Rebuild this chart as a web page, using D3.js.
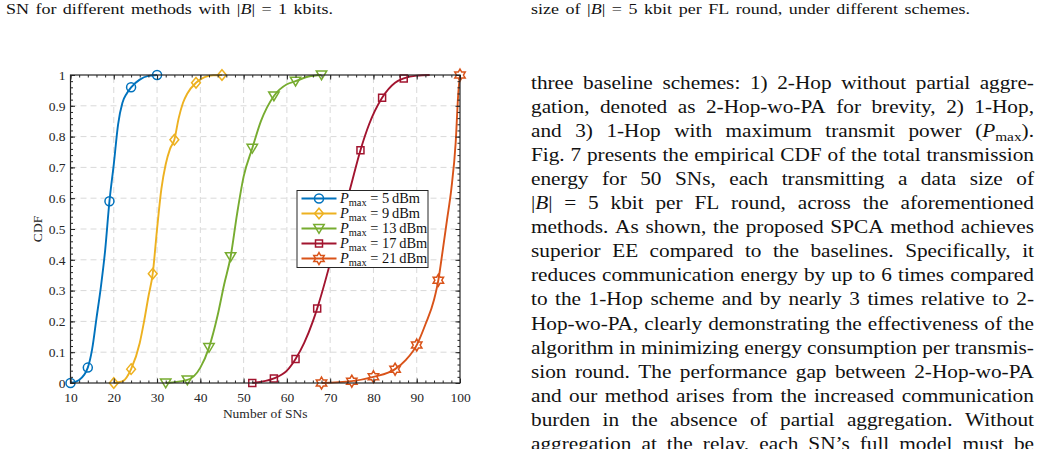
<!DOCTYPE html>
<html>
<head>
<meta charset="utf-8">
<script src="https://cdn.jsdelivr.net/npm/d3@7"></script>
<style>
  html, body { margin: 0; padding: 0; background: #fff; }
  svg { display: block; }
</style>
</head>
<body>
<svg id="page" width="1041" height="449"></svg>
<script>
// ── Chart data ──
var snMajor = [10, 20, 30, 40, 50, 60, 70, 80, 90, 100];
var cdfMajor = [0, 0.1, 0.2, 0.3, 0.4, 0.5, 0.6, 0.7, 0.8, 0.9, 1];
var cdfLabels = ['0', '0.1', '0.2', '0.3', '0.4', '0.5', '0.6', '0.7', '0.8', '0.9', '1'];

var sn5  = [10, 12, 14, 15, 16, 17, 18, 19, 20, 21, 22, 23, 24, 26, 28, 30];
var cdf5 = [0, 0.01, 0.05, 0.11, 0.21, 0.31, 0.43, 0.59, 0.71, 0.84, 0.91, 0.94, 0.96, 0.985, 0.997, 1];
var mk5  = [10, 14, 19, 24, 30];

var sn9  = [20, 22, 24, 26, 27, 28, 29, 30, 31, 32, 33, 34, 35, 36, 37, 39, 41, 43, 45];
var cdf9 = [0, 0.005, 0.045, 0.13, 0.2, 0.28, 0.355, 0.5, 0.63, 0.71, 0.76, 0.79, 0.86, 0.91, 0.94, 0.975, 0.993, 0.999, 1];
var mk9  = [20, 24, 29, 34, 39, 45];

var sn13  = [32, 37, 40, 42, 44, 45.5, 47, 48.5, 50, 52, 54, 57, 60, 62, 65, 68];
var cdf13 = [0, 0.01, 0.05, 0.115, 0.22, 0.32, 0.41, 0.55, 0.67, 0.762, 0.85, 0.932, 0.97, 0.98, 0.995, 1];
var mk13  = [32, 37, 42, 47, 52, 57, 62, 68];

var sn17  = [52, 57, 60, 62, 64, 66, 67, 70, 72, 74.5, 77, 79, 82, 85, 87, 90, 93];
var cdf17 = [0, 0.015, 0.04, 0.078, 0.13, 0.2, 0.242, 0.39, 0.5, 0.625, 0.756, 0.84, 0.926, 0.975, 0.989, 0.998, 1];
var mk17  = [52, 57, 62, 67, 72, 77, 82, 87];

var sn21  = [68, 75, 80, 85, 87.5, 90, 92, 94, 95, 96, 97, 98, 99, 99.6, 100];
var cdf21 = [0, 0.006, 0.02, 0.045, 0.075, 0.123, 0.19, 0.27, 0.334, 0.43, 0.53, 0.63, 0.78, 0.94, 1];
var mk21  = [68, 75, 80, 85, 90, 95, 100];

var powerLabels = ['5', '9', '13', '17', '21'];
var seriesColors = ['#0072BD', '#EDB120', '#77AC30', '#A2142F', '#D95319'];
var seriesMarkers = ['circle', 'diamond', 'triangle', 'square', 'hexagram'];

// ── Page text ──
var captionLeft = 'SN for different methods with |*B*| = 1 kbits.';
var captionRight = 'size of |*B*| = 5 kbit per FL round, under different schemes.';
var bodyLines = [
    'three baseline schemes: 1) 2-Hop without partial aggre-',
    'gation, denoted as 2-Hop-wo-PA for brevity, 2) 1-Hop,',
    'and 3) 1-Hop with maximum transmit power (*P*_{max}).',
    'Fig. 7 presents the empirical CDF of the total transmission',
    'energy for 50 SNs, each transmitting a data size of',
    '|*B*| = 5 kbit per FL round, across the aforementioned',
    'methods. As shown, the proposed SPCA method achieves',
    'superior EE compared to the baselines. Specifically, it',
    'reduces communication energy by up to 6 times compared',
    'to the 1-Hop scheme and by nearly 3 times relative to 2-',
    'Hop-wo-PA, clearly demonstrating the effectiveness of the',
    'algorithm in minimizing energy consumption per transmis-',
    'sion round. The performance gap between 2-Hop-wo-PA',
    'and our method arises from the increased communication',
    'burden in the absence of partial aggregation. Without',
    'aggregation at the relay, each SN\u2019s full model must be'
];

var SERIF = '"Liberation Serif", "Times New Roman", serif';
var svg = d3.select('#page');

// ── rich text helpers: *x* italic, _{x} subscript ──
function parseSegs(str) {
    var parts = str.split(/(\*[^*]+\*|_\{[^}]+\})/).filter(function(p) { return p.length; });
    return parts.map(function(p) {
        if (p[0] === '*') return { t: p.slice(1, -1), it: true };
        if (p[0] === '_') return { t: p.slice(2, -1), sub: true };
        return { t: p };
    });
}

function addSegs(text, segs, size) {
    var shifted = false;
    segs.forEach(function(s) {
        var ts = text.append('tspan').text(s.t);
        if (s.it) ts.style('font-style', 'italic');
        if (s.sub) {
            ts.attr('font-size', size * 0.72).attr('dy', size * 0.22);
            shifted = true;
        } else if (shifted) {
            ts.attr('dy', -size * 0.22);
            shifted = false;
        }
    });
}

function measure(g, str, size) {
    var t = g.append('text').attr('font-size', size);
    addSegs(t, parseSegs(str), size);
    var w = t.node().getComputedTextLength();
    t.remove();
    return w;
}

// place words (stretched by sx) so that the line spans exactly `width`
function justifyLine(g, str, x0, width, y, size, sx) {
    var words = str.split(' ');
    var nodes = words.map(function(w) {
        var t = g.append('text').attr('font-size', size);
        addSegs(t, parseSegs(w), size);
        return t;
    });
    var widths = nodes.map(function(n) { return n.node().getComputedTextLength() * sx; });
    var gap = (width - d3.sum(widths)) / (words.length - 1);
    var x = x0;
    nodes.forEach(function(n, i) {
        n.attr('transform', 'translate(' + x + ',' + y + ') scale(' + sx + ',1)');
        x += widths[i] + gap;
    });
}

// ── captions and body column ──
var textG = svg.append('g')
    .style('font-family', SERIF)
    .style('fill', '#111');

var BODY_SIZE = 18, BODY_W = 503;
// the set text is a wider face than Times: stretch so the tightest line fits with plain spaces
var bodySx = d3.min(bodyLines, function(l) { return BODY_W / measure(textG, l, BODY_SIZE); });
bodySx = Math.max(1, Math.min(1.2, bodySx));

[[captionLeft, 6, 327], [captionRight, 531, 439]].forEach(function(c) {
    var sx = c[2] / measure(textG, c[0], 15);
    justifyLine(textG, c[0], c[1], c[2], 14, 15, Math.max(1, Math.min(1.2, sx)));
});

bodyLines.forEach(function(line, i) {
    justifyLine(textG, line, 531, BODY_W, 88.5 + i * 24.1, BODY_SIZE, bodySx);
});

// ── chart ──
var x = d3.scaleLinear().domain([10, 100]).range([70.5, 460]);
var y = d3.scaleLinear().domain([0, 1]).range([383, 75]);

var chart = svg.append('g').style('font-family', SERIF);

var snMinor = d3.range(10, 100.1, 2);
var cdfMinor = d3.range(0, 1.001, 0.02);

// grid
chart.append('g').selectAll('line')
    .data(snMajor.slice(1, -1))
    .enter().append('line')
    .attr('x1', function(d) { return x(d); })
    .attr('x2', function(d) { return x(d); })
    .attr('y1', y(0)).attr('y2', y(1))
    .style('stroke', '#d9d9d9')
    .style('stroke-width', 1)
    .style('stroke-dasharray', '6,4');

chart.append('g').selectAll('line')
    .data(cdfMajor.slice(1, -1))
    .enter().append('line')
    .attr('x1', x(10)).attr('x2', x(100))
    .attr('y1', function(d) { return y(d); })
    .attr('y2', function(d) { return y(d); })
    .style('stroke', '#d9d9d9')
    .style('stroke-width', 1)
    .style('stroke-dasharray', '6,4');

// markers
function markerPath(type) {
    var p = d3.path();
    if (type === 'circle') {
        p.arc(0, 0, 4.5, 0, 2 * Math.PI);
    } else if (type === 'diamond') {
        p.moveTo(0, -5.3); p.lineTo(4.4, 0); p.lineTo(0, 5.3); p.lineTo(-4.4, 0); p.closePath();
    } else if (type === 'triangle') {
        p.moveTo(-5.2, -4); p.lineTo(5.2, -4); p.lineTo(0, 4.8); p.closePath();
    } else if (type === 'square') {
        p.rect(-3.5, -3.5, 7, 7);
    } else if (type === 'hexagram') {
        var R = 6, r = R / Math.sqrt(3);
        for (var k = 0; k < 12; k++) {
            var a = -Math.PI / 2 + k * Math.PI / 6;
            var rad = (k % 2 === 0) ? R : r;
            if (k === 0) p.moveTo(rad * Math.cos(a), rad * Math.sin(a));
            else p.lineTo(rad * Math.cos(a), rad * Math.sin(a));
        }
        p.closePath();
    }
    return p.toString();
}

var seriesSn = [sn5, sn9, sn13, sn17, sn21];
var seriesCdf = [cdf5, cdf9, cdf13, cdf17, cdf21];
var seriesMk = [mk5, mk9, mk13, mk17, mk21];

var line = d3.line()
    .x(function(d) { return x(d[0]); })
    .y(function(d) { return y(d[1]); })
    .curve(d3.curveMonotoneX);

seriesSn.forEach(function(sn, s) {
    var pts = sn.map(function(v, i) { return [v, seriesCdf[s][i]]; });
    var g = chart.append('g');
    g.append('path')
        .datum(pts)
        .attr('d', line)
        .style('fill', 'none')
        .style('stroke', seriesColors[s])
        .style('stroke-width', 1.9);
    g.selectAll('path.mk')
        .data(pts.filter(function(d) { return seriesMk[s].indexOf(d[0]) >= 0; }))
        .enter().append('path')
        .attr('transform', function(d) { return 'translate(' + x(d[0]) + ',' + y(d[1]) + ')'; })
        .attr('d', markerPath(seriesMarkers[s]))
        .style('fill', 'none')
        .style('stroke', seriesColors[s])
        .style('stroke-width', 1.5);
});

// axes (box, inward ticks)
var TICK_FONT = '13.5px';
function styleAxis(g) {
    g.select('.domain').remove();
    g.selectAll('line').style('stroke', '#262626').style('stroke-width', 1);
    g.selectAll('text').style('font-family', SERIF).style('font-size', TICK_FONT).style('fill', '#262626');
}

chart.append('g').attr('transform', 'translate(0,' + y(0) + ')')
    .call(d3.axisBottom(x).tickValues(snMajor).tickSize(-4.5).tickPadding(9).tickFormat(d3.format('d')))
    .call(styleAxis);
chart.append('g').attr('transform', 'translate(0,' + y(0) + ')')
    .call(d3.axisBottom(x).tickValues(snMinor).tickSize(-2.5).tickFormat(''))
    .call(styleAxis);
chart.append('g').attr('transform', 'translate(0,' + y(1) + ')')
    .call(d3.axisTop(x).tickValues(snMajor).tickSize(-4.5).tickFormat(''))
    .call(styleAxis);
chart.append('g').attr('transform', 'translate(0,' + y(1) + ')')
    .call(d3.axisTop(x).tickValues(snMinor).tickSize(-2.5).tickFormat(''))
    .call(styleAxis);
chart.append('g').attr('transform', 'translate(' + x(10) + ',0)')
    .call(d3.axisLeft(y).tickValues(cdfMajor).tickSize(-4.5).tickPadding(5)
        .tickFormat(function(d, i) { return cdfLabels[i]; }))
    .call(styleAxis);
chart.append('g').attr('transform', 'translate(' + x(10) + ',0)')
    .call(d3.axisLeft(y).tickValues(cdfMinor).tickSize(-2.5).tickFormat(''))
    .call(styleAxis);
chart.append('g').attr('transform', 'translate(' + x(100) + ',0)')
    .call(d3.axisRight(y).tickValues(cdfMajor).tickSize(-4.5).tickFormat(''))
    .call(styleAxis);
chart.append('g').attr('transform', 'translate(' + x(100) + ',0)')
    .call(d3.axisRight(y).tickValues(cdfMinor).tickSize(-2.5).tickFormat(''))
    .call(styleAxis);

chart.append('rect')
    .attr('x', x(10)).attr('y', y(1))
    .attr('width', x(100) - x(10)).attr('height', y(0) - y(1))
    .style('fill', 'none')
    .style('stroke', '#262626')
    .style('stroke-width', 1.2);

// axis titles
chart.append('text')
    .attr('x', x(55)).attr('y', 418)
    .attr('text-anchor', 'middle')
    .style('font-size', TICK_FONT).style('fill', '#262626')
    .text('Number of SNs');
chart.append('text')
    .attr('transform', 'translate(42,' + y(0.5) + ') rotate(-90)')
    .attr('text-anchor', 'middle')
    .style('font-size', TICK_FONT).style('fill', '#262626')
    .text('CDF');

// legend
var legend = chart.append('g').attr('transform', 'translate(297,190.5)');
legend.append('rect')
    .attr('width', 131).attr('height', 77)
    .style('fill', '#fff')
    .style('stroke', '#262626')
    .style('stroke-width', 1);

powerLabels.forEach(function(p, i) {
    var ly = 8 + i * 15;
    var row = legend.append('g').attr('transform', 'translate(0,' + ly + ')');
    row.append('line')
        .attr('x1', 4.5).attr('x2', 39.5)
        .style('stroke', seriesColors[i]).style('stroke-width', 1.9);
    row.append('path')
        .attr('transform', 'translate(22,0)')
        .attr('d', markerPath(seriesMarkers[i]))
        .style('fill', 'none')
        .style('stroke', seriesColors[i]).style('stroke-width', 1.5);
    var t = row.append('text')
        .attr('x', 43).attr('y', 4.4)
        .attr('font-size', 14.4)
        .style('fill', '#111');
    addSegs(t, parseSegs('*P*_{max} = ' + p + '\u2009dBm'), 14.4);
});
</script>
</body>
</html>
